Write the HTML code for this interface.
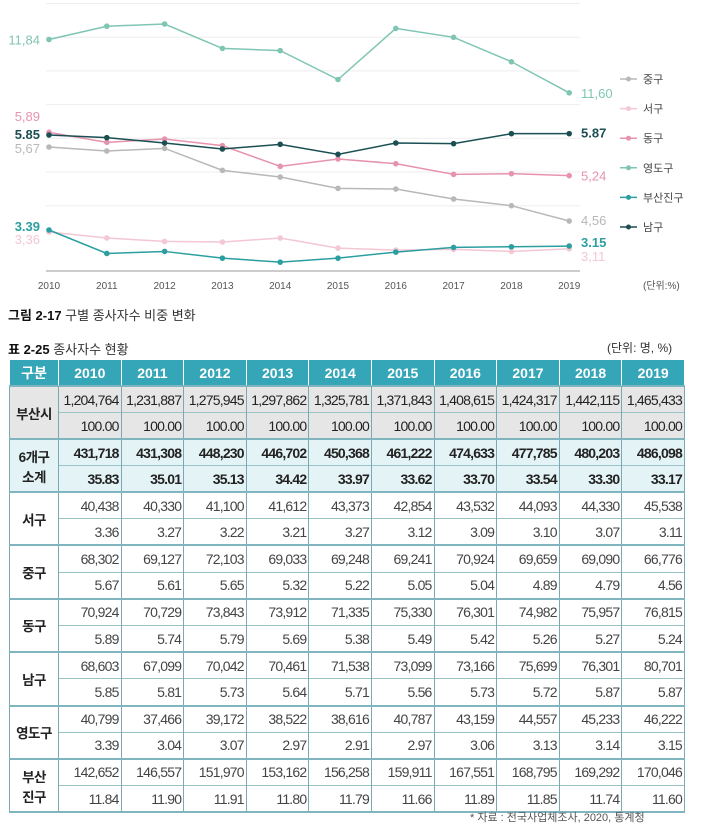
<!DOCTYPE html>
<html><head><meta charset="utf-8">
<style>
body{margin:0;width:705px;height:827px;background:#fff;position:relative;overflow:hidden;font-family:"Liberation Sans","Noto Sans CJK KR",sans-serif;}
svg{position:absolute;left:0;top:0}
.cap{position:absolute;font-size:13px;color:#333;white-space:nowrap}
.cap b{color:#111}
table{position:absolute;left:9px;top:360px;width:675px;border-collapse:collapse;table-layout:fixed;font-family:"Liberation Sans","Noto Sans CJK KR",sans-serif;font-size:14px;letter-spacing:-0.8px;color:#444;border-bottom:2px solid #7fb5bf}
td,th{border-left:1px solid #7aa9b3;border-right:1px solid #7aa9b3;padding:0 2px;text-align:right;height:26px;box-sizing:border-box;white-space:nowrap;overflow:hidden}
th{background:#35a5b8;color:#fff;font-weight:bold;text-align:center;font-size:14px;letter-spacing:0;border-color:#fff;height:26px}
td.h{text-align:center;font-weight:bold;color:#222;font-size:13.5px;letter-spacing:-0.5px}
tr.g td{background:#e6e6e6;color:#222}
tr.c td{background:#e4f3f5;color:#222;font-weight:bold}
tr.top td{border-top:2px solid #7fb5bf}
tr.sub td{border-top:1px solid #9cc2c9}
</style></head><body>
<svg id="chart" width="705" height="300"></svg>
<div class="cap" style="left:8px;top:305px"><b>그림 2-17</b> 구별 종사자수 비중 변화</div>
<div class="cap" style="left:8px;top:339px"><b>표 2-25</b> 종사자수 현황</div>
<div class="cap" style="left:607px;top:339px;font-size:12px">(단위: 명, %)</div>
<table>
<colgroup><col style="width:49px"><col span="10" style="width:62.6px"></colgroup>
<tr><th>구분</th><th>2010</th><th>2011</th><th>2012</th><th>2013</th><th>2014</th><th>2015</th><th>2016</th><th>2017</th><th>2018</th><th>2019</th></tr>
<tbody id="tb"></tbody>
</table>
<div class="cap" style="left:470px;top:809px;font-size:11px;color:#555">* 자료 : 전국사업체조사, 2020, 통계청</div>
<script>
const years=["2010","2011","2012","2013","2014","2015","2016","2017","2018","2019"];
const jung=[5.67,5.61,5.65,5.32,5.22,5.05,5.04,4.89,4.79,4.56];
const seo=[3.36,3.27,3.22,3.21,3.27,3.12,3.09,3.10,3.07,3.11];
const dong=[5.89,5.74,5.79,5.69,5.38,5.49,5.42,5.26,5.27,5.24];
const yeongdo=[3.39,3.04,3.07,2.97,2.91,2.97,3.06,3.13,3.14,3.15];
const busanjin=[11.84,11.90,11.91,11.80,11.79,11.66,11.89,11.85,11.74,11.60];
const nam=[5.85,5.81,5.73,5.64,5.71,5.56,5.73,5.72,5.87,5.87];
const gridTicks=[0,1,2,3,4,5,6];

const NS="http://www.w3.org/2000/svg",svg=document.getElementById('chart');
function mk(t,a,p){const e=document.createElementNS(NS,t);for(const k in a)e.setAttribute(k,a[k]);(p||svg).appendChild(e);return e;}
function x(i){return 49+i*57.8;}
function y(v){if(v>9)return 24+(11.91-v)*222;if(v>4)return 147+(5.67-v)*66.7;return 230+(3.39-v)*67;}
gridTicks.forEach(i=>{const g=mk('line',{x1:46,x2:580,y1:3.5+i*33.7,y2:3.5+i*33.7,stroke:'#eee','stroke-width':1});
});
const ax=mk('line',{x1:46,x2:580,y1:271,y2:271,stroke:'#999','stroke-width':1});

years.forEach((yr,i)=>{const t=mk('text',{x:x(i),y:289,'text-anchor':'middle','font-size':10,fill:'#555'});t.textContent=yr;
});
const u=mk('text',{x:643,y:289,'font-size':10,fill:'#555'});u.textContent='(단위:%)';

const series=[["중구",jung,"#b8b8b8"],["서구",seo,"#f3c7d3"],["동구",dong,"#e793ae"],["영도구",busanjin,"#7fc5b3"],["부산진구",yeongdo,"#2b9ea0"],["남구",nam,"#1b4f53"]];
series.forEach((s,k)=>{const d=s[1];
const pl=mk('polyline',{points:d.map((v,i)=>x(i)+','+y(v)).join(' '),fill:'none',stroke:s[2],'stroke-width':1.5});

d.forEach((v,i)=>{const c=mk('circle',{cx:x(i),cy:y(v),r:2.8,fill:s[2]});});
const ly=79+k*29.6;
const ll=mk('line',{x1:620,x2:637,y1:ly,y2:ly,stroke:s[2],'stroke-width':1.5});
const lc=mk('circle',{cx:628.5,cy:ly,r:2.5,fill:s[2]});
const lt=mk('text',{x:643,y:ly+4,'font-size':11,fill:'#444'});lt.textContent=s[0];
});
function lab(v,xx,yy,col,bold,anchor){const t=mk('text',{x:xx,y:yy,'font-size':13,fill:col,'text-anchor':anchor,'font-weight':bold?'bold':'normal'});t.textContent=v.toFixed(2).replace('.',bold?'.':',');
}
lab(busanjin[0],40,y(busanjin[0])+5,'#7fc5b3',0,'end');lab(busanjin[9],581,y(busanjin[9])+5,'#7fc5b3',0,'start');
lab(dong[0],40,121,'#e793ae',0,'end');lab(nam[0],40,139,'#1b4f53',1,'end');lab(jung[0],40,153,'#b8b8b8',0,'end');
lab(yeongdo[0],40,231,'#2b9ea0',1,'end');lab(seo[0],40,244,'#f3c7d3',0,'end');
lab(nam[9],581,y(nam[9])+4,'#1b4f53',1,'start');lab(dong[9],581,y(dong[9])+5,'#e793ae',0,'start');
lab(jung[9],581,y(jung[9])+4,'#b8b8b8',0,'start');lab(yeongdo[9],581,y(yeongdo[9])+1,'#2b9ea0',1,'start');lab(seo[9],581,261,'#f3c7d3',0,'start');

const rows=[
["부산시","g",["1,204,764","1,231,887","1,275,945","1,297,862","1,325,781","1,371,843","1,408,615","1,424,317","1,442,115","1,465,433"],["100.00","100.00","100.00","100.00","100.00","100.00","100.00","100.00","100.00","100.00"]],
["6개구<br>소계","c",["431,718","431,308","448,230","446,702","450,368","461,222","474,633","477,785","480,203","486,098"],["35.83","35.01","35.13","34.42","33.97","33.62","33.70","33.54","33.30","33.17"]],
["서구","",["40,438","40,330","41,100","41,612","43,373","42,854","43,532","44,093","44,330","45,538"],["3.36","3.27","3.22","3.21","3.27","3.12","3.09","3.10","3.07","3.11"]],
["중구","",["68,302","69,127","72,103","69,033","69,248","69,241","70,924","69,659","69,090","66,776"],["5.67","5.61","5.65","5.32","5.22","5.05","5.04","4.89","4.79","4.56"]],
["동구","",["70,924","70,729","73,843","73,912","71,335","75,330","76,301","74,982","75,957","76,815"],["5.89","5.74","5.79","5.69","5.38","5.49","5.42","5.26","5.27","5.24"]],
["남구","",["68,603","67,099","70,042","70,461","71,538","73,099","73,166","75,699","76,301","80,701"],["5.85","5.81","5.73","5.64","5.71","5.56","5.73","5.72","5.87","5.87"]],
["영도구","",["40,799","37,466","39,172","38,522","38,616","40,787","43,159","44,557","45,233","46,222"],["3.39","3.04","3.07","2.97","2.91","2.97","3.06","3.13","3.14","3.15"]],
["부산<br>진구","",["142,652","146,557","151,970","153,162","156,258","159,911","167,551","168,795","169,292","170,046"],["11.84","11.90","11.91","11.80","11.79","11.66","11.89","11.85","11.74","11.60"]]];
const tb=document.getElementById('tb');let html='';
rows.forEach((r,i)=>{const h=i<2?26.5:26.7;
html+='<tr class="top '+r[1]+'" style="height:'+h+'px"><td class="h" rowspan="2">'+r[0]+'</td>'+r[2].map(v=>'<td>'+v+'</td>').join('')+'</tr>';
html+='<tr class="sub '+r[1]+'" style="height:'+h+'px">'+r[3].map(v=>'<td>'+v+'</td>').join('')+'</tr>';});
tb.innerHTML=html;
</script>
</body></html>
